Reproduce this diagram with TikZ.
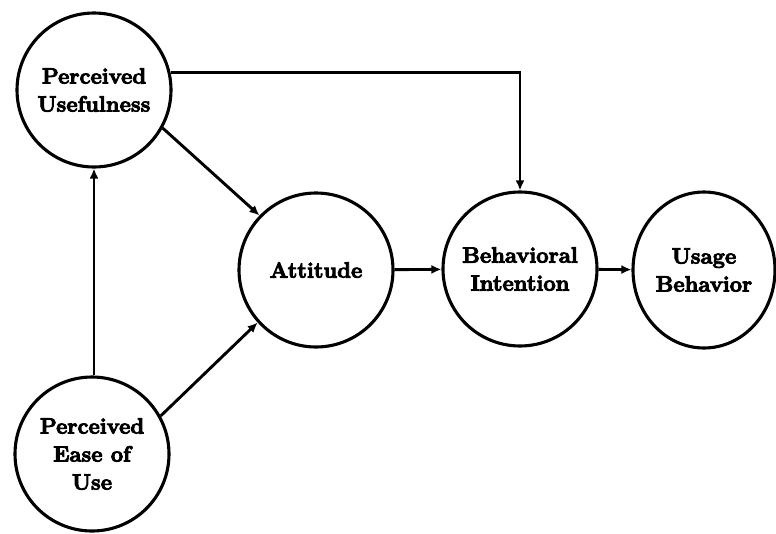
\documentclass[tikz,border=0pt]{standalone}
\usetikzlibrary{arrows.meta,shapes.geometric}
% heavier label text: fill and stroke the glyph outlines
\newcommand\heavyon{\special{pdf:literal direct 2 Tr 0.9 w}}
\begin{document}
\begin{tikzpicture}[x=1pt,y=-1pt,
  construct/.style={circle,draw,line width=3.1pt,minimum size=154pt,inner sep=0pt},
  caption/.style={align=center,inner sep=0pt,
    font=\fontsize{22}{28}\selectfont\bfseries\heavyon},
  link/.style={line width=2.9pt,-{Latex[length=10pt,width=9pt]}}]
  \useasboundingbox (0,0) rectangle (776,533);
  % constructs
  \node[construct] (pu)  at (94,90)   {};
  \node[construct] (peou) at (92,454) {};
  \node[construct] (att) at (316,270) {};
  \node[construct] (bi)  at (520,269) {};
  \node[construct,ellipse,minimum width=142pt,minimum height=156pt] (ub) at (704,270) {};
  % relationships
  \draw[link] (peou.north -| pu.south) -- (pu.south);
  \draw[link] (pu.-29) -- (att.136);
  \draw[link] (peou.29) -- (att.222);
  \draw[link] (pu.13.5) -| (bi.north);
  \draw[link] (att) -- (bi);
  \draw[link] (bi) -- (ub);
  % names of the constructs
  \node[caption] (pu-t)   at (pu)   {Perceived\\Usefulness};
  \node[caption] (peou-t) at (peou) {Perceived\\Ease of\\Use};
  \node[caption] (att-t)  at (att)  {Attitude};
  \node[caption] (bi-t)   at (bi)   {Behavioral\\Intention};
  \node[caption] (ub-t)   at (ub)   {Usage\\Behavior};
\end{tikzpicture}
\end{document}
